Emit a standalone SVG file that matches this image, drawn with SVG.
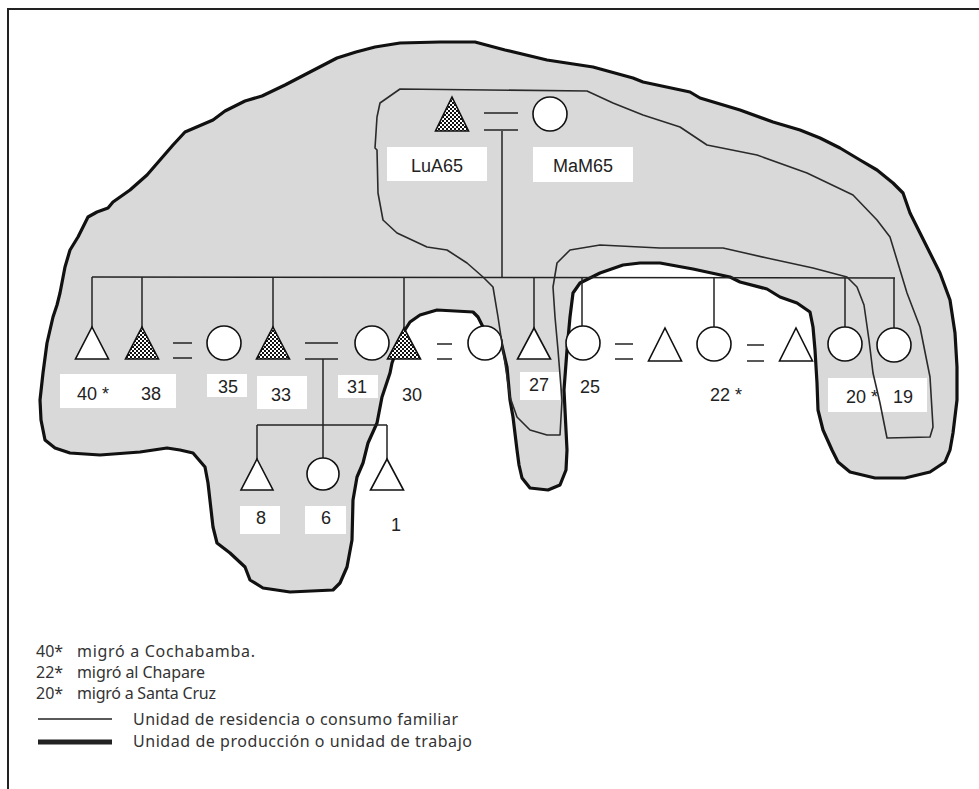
<svg xmlns="http://www.w3.org/2000/svg" width="979" height="789" viewBox="0 0 979 789">
<defs>
<pattern id="chk" width="4" height="4" patternUnits="userSpaceOnUse"><rect width="4" height="4" fill="#111"/><rect x="0" y="0" width="2" height="2" fill="#fff"/><rect x="2" y="2" width="2" height="2" fill="#fff"/></pattern>
</defs>
<style>
.blob{fill:#d9d9d9;stroke:#111;stroke-width:3.2;stroke-linejoin:round}
.res{fill:none;stroke:#2a2a2a;stroke-width:1.6;stroke-linejoin:round}
.k{stroke:#222;stroke-width:1.5;fill:none}
.m{fill:#fff;stroke:#111;stroke-width:1.6}
.h{fill:url(#chk);stroke:#111;stroke-width:1.6}
.f{fill:#fff;stroke:#111;stroke-width:1.6}
.box{fill:#fff}
.lb{font-family:"Liberation Sans",Arial,sans-serif;font-size:18px;fill:#222}
.lg{font-family:"Noto Sans","Open Sans",sans-serif;font-size:16px;fill:#333}
</style>
<path d="M8,789 V9 H979" fill="none" stroke="#222" stroke-width="2"/>
<g id="production-unit">
<polygon class="blob" points="213,120 225,111 245,101 262,96 285,85 310,72 337,58 356,52 375,47 400,43 440,42 475,42 505,50 547,60 593,67 633,78 643,82 690,92 700,98 740,110 773,122 800,130 820,138 840,148 860,160 877,170 893,183 903,193 910,213 920,233 930,253 940,273 950,300 955,333 957,367 957,400 953,433 950,450 945,462 930,472 905,478 875,478 850,472 838,462 832,450 823,430 818,410 817,383 815,350 813,327 810,312 797,303 780,297 767,289 740,282 730,277 693,269 660,263 640,263 623,265 600,273 580,283 573,293 570,317 567,350 564,390 567,450 566,470 560,485 548,490 530,488 522,478 519,465 517,450 513,417 510,400 507,367 500,337 483,327 478,317 473,312 437,310 420,315 410,322 403,333 392,363 390,373 382,397 377,423 368,443 363,463 357,477 353,500 352,540 347,567 340,583 333,590 290,592 263,588 250,580 245,567 230,553 217,543 213,527 208,483 205,467 193,453 180,450 167,448 140,452 100,455 70,453 55,448 45,440 41,420 40,400 43,373 47,343 53,317 57,305 60,293 65,267 70,250 78,237 88,217 97,212 108,208 113,202 130,190 147,175 173,145 185,132"/>
</g>
<g id="connectors" class="k">
<line x1="92" y1="277" x2="895" y2="278"/>
<line x1="502" y1="131" x2="502" y2="277"/>
<line x1="92" y1="277" x2="92" y2="327"/>
<line x1="142" y1="277" x2="142" y2="327"/>
<line x1="273" y1="277" x2="273" y2="327"/>
<line x1="404" y1="277" x2="404" y2="328"/>
<line x1="534" y1="277" x2="534" y2="328"/>
<line x1="582" y1="277" x2="582" y2="326"/>
<line x1="714" y1="278" x2="714" y2="327"/>
<line x1="845" y1="278" x2="845" y2="327"/>
<line x1="894" y1="278" x2="894" y2="328"/>
<line x1="484" y1="113" x2="518" y2="113"/>
<line x1="484" y1="130" x2="518" y2="130"/>
<line x1="173" y1="343" x2="192" y2="343"/>
<line x1="173" y1="358" x2="192" y2="358"/>
<line x1="305" y1="343" x2="338" y2="343"/>
<line x1="305" y1="359" x2="338" y2="359"/>
<line x1="437" y1="344" x2="452" y2="344"/>
<line x1="437" y1="359" x2="452" y2="359"/>
<line x1="615" y1="344" x2="633" y2="344"/>
<line x1="615" y1="359" x2="633" y2="359"/>
<line x1="747" y1="345" x2="764" y2="345"/>
<line x1="747" y1="361" x2="764" y2="361"/>
<line x1="323" y1="359" x2="323" y2="458"/>
<line x1="257" y1="425" x2="387" y2="425"/>
<line x1="257" y1="425" x2="257" y2="459"/>
<line x1="387" y1="425" x2="387" y2="459"/>
</g>
<g id="LuA65"><polygon class="h" points="452,97 468.5,131 435.5,131"/><rect class="box" x="387" y="147" width="100" height="34"/><text class="lb" x="437" y="172" text-anchor="middle">LuA65</text></g>
<g id="MaM65"><circle class="f" cx="550" cy="114" r="17"/><rect class="box" x="533" y="147" width="100" height="35"/><text class="lb" x="583" y="172" text-anchor="middle">MaM65</text></g>
<g id="labels-40-38"><rect class="box" x="60" y="374" width="116" height="34"/><text class="lb" x="77" y="400">40 *</text><text class="lb" x="151" y="400" text-anchor="middle">38</text></g>
<g id="n40"><polygon class="m" points="92,327 108.5,359 75.5,359"/></g>
<g id="n38"><polygon class="h" points="142,327 158.5,359 125.5,359"/></g>
<g id="n35"><circle class="f" cx="224" cy="343" r="17"/><rect class="box" x="207" y="374" width="40" height="23"/><text class="lb" x="228" y="393" text-anchor="middle">35</text></g>
<g id="n33"><polygon class="h" points="273,327 289.5,359 256.5,359"/><rect class="box" x="257" y="376" width="50" height="33"/><text class="lb" x="281" y="401" text-anchor="middle">33</text></g>
<g id="n31"><circle class="f" cx="372" cy="343" r="17"/><rect class="box" x="338" y="375" width="40" height="23"/><text class="lb" x="357" y="393" text-anchor="middle">31</text></g>
<g id="n30"><polygon class="h" points="404,328 420.5,359 387.5,359"/><text class="lb" x="412" y="401" text-anchor="middle">30</text></g>
<g id="n30-spouse"><circle class="f" cx="485" cy="343" r="17"/></g>
<g id="n27"><polygon class="m" points="534,328 550.5,359 517.5,359"/><rect class="box" x="520" y="372" width="40" height="28"/><text class="lb" x="539" y="391" text-anchor="middle">27</text></g>
<g id="n25"><circle class="f" cx="583" cy="343" r="17"/><text class="lb" x="590" y="393" text-anchor="middle">25</text></g>
<g id="n25-spouse"><polygon class="m" points="665,328 681.5,361 648.5,361"/></g>
<g id="n22"><circle class="f" cx="714" cy="344" r="17"/><text class="lb" x="710" y="401">22 *</text></g>
<g id="n22-spouse"><polygon class="m" points="796,328 812.5,361 779.5,361"/></g>
<g id="labels-20-19"><rect class="box" x="828" y="378" width="99" height="34"/><text class="lb" x="846" y="403">20 *</text><text class="lb" x="903" y="403" text-anchor="middle">19</text></g>
<g id="n20"><circle class="f" cx="845" cy="344" r="17"/></g>
<g id="n19"><circle class="f" cx="894" cy="345" r="17"/></g>
<g id="n8"><polygon class="m" points="257,459 273,490 241,490"/><rect class="box" x="240" y="506" width="40" height="28"/><text class="lb" x="261" y="524" text-anchor="middle">8</text></g>
<g id="n6"><circle class="f" cx="323" cy="474" r="16"/><rect class="box" x="305" y="506" width="41" height="28"/><text class="lb" x="326" y="524" text-anchor="middle">6</text></g>
<g id="n1"><polygon class="m" points="387,459 403.5,490 370.5,490"/><text class="lb" x="396" y="531" text-anchor="middle">1</text></g>
<g id="residence-unit">
<polygon class="res" points="400,89 587,91 613,103 643,115 680,127 707,145 757,155 807,173 853,195 877,220 890,237 897,260 907,293 920,327 930,377 933,427 930,437 887,438 880,403 873,373 869,340 864,305 857,287 847,277 813,268 767,258 723,248 660,248 600,245 570,250 557,263 553,287 555,317 558,350 562,400 560,435 547,435 530,430 517,417 510,397 507,377 503,350 498,317 493,287 483,277 467,263 447,250 427,247 397,233 383,220 378,193 377,150 375,148 377,117 380,103"/>
</g>
<g id="legend">
<text class="lg" x="36" y="657">40*</text><text class="lg" x="77" y="657" textLength="178">migró a Cochabamba.</text>
<text class="lg" x="36" y="678">22*</text><text class="lg" x="77" y="678" textLength="128">migró al Chapare</text>
<text class="lg" x="36" y="699">20*</text><text class="lg" x="77" y="699" textLength="139">migró a Santa Cruz</text>
<line x1="38" y1="719" x2="112" y2="719" stroke="#222" stroke-width="1.5"/>
<text class="lg" x="133" y="725" textLength="325">Unidad de residencia o consumo familiar</text>
<line x1="38" y1="742" x2="112" y2="742" stroke="#222" stroke-width="5"/>
<text class="lg" x="133" y="747" textLength="339">Unidad de producción o unidad de trabajo</text>
</g>
</svg>
